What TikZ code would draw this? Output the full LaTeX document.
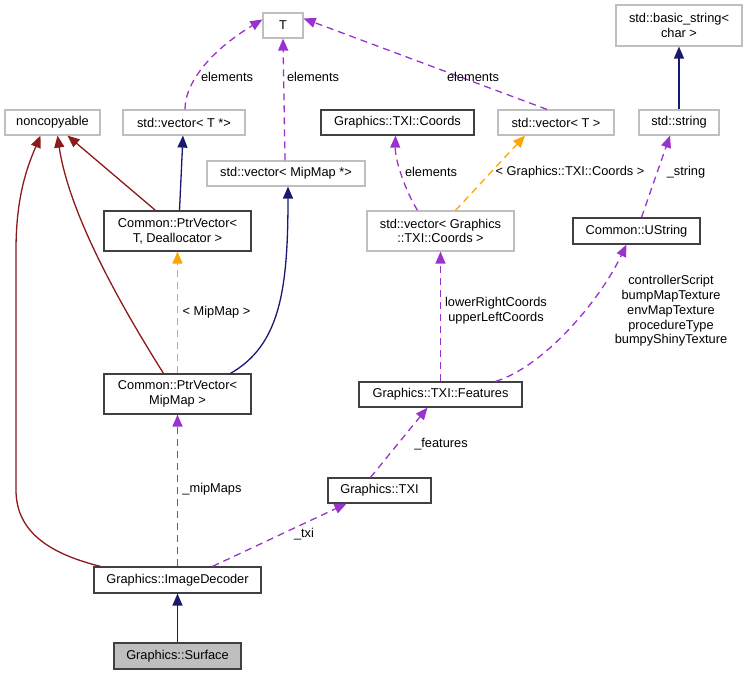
\documentclass[tikz,border=0pt]{standalone}
\usepackage{fontspec}
\setmainfont{Liberation Sans}
\usepackage{xcolor}
\usetikzlibrary{arrows.meta}
\definecolor{inherit}{HTML}{191970}
\definecolor{privinh}{HTML}{8B1A1A}
\definecolor{usage}{HTML}{9A32CD}
\definecolor{templ}{HTML}{FFA500}
\definecolor{extgrey}{HTML}{BFBFBF}
\definecolor{docgrey}{HTML}{404040}

\begin{document}
\begin{tikzpicture}[x=1pt,y=-1pt,
    font=\fontsize{12.8}{14.7}\selectfont,
    cls/.style={draw=docgrey,line width=1.2pt,inner sep=0pt,fill=white},
    ext/.style={draw=extgrey,line width=1.2pt,inner sep=0pt,fill=white},
    multi/.style={align=center},
    tip/.style={-{Triangle[length=12pt,width=10pt]}},
    base/.style={tip,draw=inherit,line width=1.3pt},
    priv/.style={tip,draw=privinh,line width=1.3pt},
    uses/.style={tip,draw=usage,line width=1.3pt,dash pattern=on 7pt off 5pt},
    tmpl/.style={tip,draw=templ,line width=1.3pt,dash pattern=on 7pt off 5pt},
    lbl/.style={align=center,inner sep=0pt}]
    \useasboundingbox (0,0) rectangle (748,675);
    % classes
    \node[ext,minimum width=40,minimum height=25] (T) at (283,25.5) {T};
    \node[ext,minimum width=95,minimum height=25] (nonc) at (52.5,122.5) {noncopyable};
    \node[ext,minimum width=122,minimum height=25] (vecTp) at (184,122.5) {std::vector< T *>};
    \node[ext,minimum width=158,minimum height=25] (vecMip) at (286,173.5) {std::vector< MipMap *>};
    \node[cls,multi,minimum width=147,minimum height=40] (pvT) at (177.5,231) {Common::PtrVector<\\ T, Deallocator >};
    \node[cls,minimum width=153,minimum height=25] (coords) at (397.5,122.5) {Graphics::TXI::Coords};
    \node[ext,minimum width=116,minimum height=25] (vecT) at (556,122.5) {std::vector< T >};
    \node[ext,multi,minimum width=126,minimum height=41] (bstr) at (679,25.5) {std::basic\_string<\\ char >};
    \node[ext,minimum width=80,minimum height=25] (str) at (679,122.5) {std::string};
    \node[ext,multi,minimum width=147,minimum height=40] (vecC) at (440.5,231) {std::vector< Graphics\\ ::TXI::Coords >};
    \node[cls,minimum width=127,minimum height=26] (ustr) at (636.5,231) {Common::UString};
    \node[cls,multi,minimum width=147,minimum height=40] (pvM) at (177.5,394) {Common::PtrVector<\\ MipMap >};
    \node[cls,minimum width=163,minimum height=25] (feat) at (440.5,394.5) {Graphics::TXI::Features};
    \node[cls,minimum width=103,minimum height=25] (txi) at (379.5,490.5) {Graphics::TXI};
    \node[cls,minimum width=167,minimum height=26] (dec) at (177.5,580) {Graphics::ImageDecoder};
    \node[cls,fill=extgrey,minimum width=127,minimum height=26] (surf) at (177.5,656) {Graphics::Surface};
    % noncopyable
    \draw[priv] ([xshift=-22pt]pvT.north) -- ([xshift=15pt]nonc.south);
    \draw[priv] ([xshift=-14pt]pvM.north) .. controls (130,320) and (70,220) .. ([xshift=5pt]nonc.south);
    \draw[priv] ([xshift=-77pt]dec.north) .. controls (55,555) and (16,535) .. (16,490)
        -- (16,250) .. controls (16,195) and (28,165) .. ([xshift=-12pt]nonc.south);
    % T
    \draw[base] ([xshift=2pt]pvT.north) -- ([xshift=-1pt]vecTp.south);
    \draw[uses] ([xshift=1pt]vecTp.north) .. controls (185,80) and (215,48) .. ([yshift=6pt]T.west);
    \draw[uses] ([xshift=-1pt]vecMip.north) -- (T.south);
    \draw[uses] ([xshift=-9pt]vecT.north) -- ([yshift=7pt]T.east);
    \node[lbl] (l1) at (227,77) {elements};
    \node[lbl] (l2) at (313,77) {elements};
    \node[lbl] (l3) at (473,77) {elements};
    % MipMap vectors
    \draw[base] ([xshift=53pt]pvM.north) .. controls (280,345) and (288,290) .. ([xshift=2pt]vecMip.south);
    \draw[tmpl] (pvM.north) -- (pvT.south);
    \node[lbl] (l4) at (216.5,312) {< MipMap >};
    % coords
    \draw[uses] ([xshift=-23pt]vecC.north) .. controls (405,190) and (395,160) .. ([xshift=-2pt]coords.south);
    \draw[tmpl] ([xshift=15pt]vecC.north) -- ([xshift=-31pt]vecT.south);
    \node[lbl] (l5) at (431,172) {elements};
    \node[lbl] (l6) at (570,172) {< Graphics::TXI::Coords >};
    % strings
    \draw[base] (str.north) -- (bstr.south);
    \draw[uses] ([xshift=5pt]ustr.north) -- ([xshift=-9pt]str.south);
    \node[lbl] (l7) at (686,172) {\_string};
    % features
    \draw[uses] (feat.north) -- (vecC.south);
    \draw[uses] ([xshift=55pt]feat.north) .. controls (545,366) and (600,300) .. ([xshift=-10pt]ustr.south);
    \node[lbl] (l8) at (496,311) {lowerRightCoords\\upperLeftCoords};
    \node[lbl] (l9) at (671,311) {controllerScript\\bumpMapTexture\\envMapTexture\\procedureType\\bumpyShinyTexture};
    \draw[uses] ([xshift=-9pt]txi.north) -- ([xshift=-13pt]feat.south);
    \node[lbl] (l10) at (441,444) {\_features};
    % decoder
    \draw[uses] ([xshift=35pt]dec.north) -- ([xshift=-33pt]txi.south);
    \node[lbl] (l11) at (304,534) {\_txi};
    \draw[uses] (dec.north) -- (pvM.south);
    \node[lbl] (l12) at (212,489) {\_mipMaps};
    \draw[base] (surf.north) -- (dec.south);
\end{tikzpicture}
\end{document}
